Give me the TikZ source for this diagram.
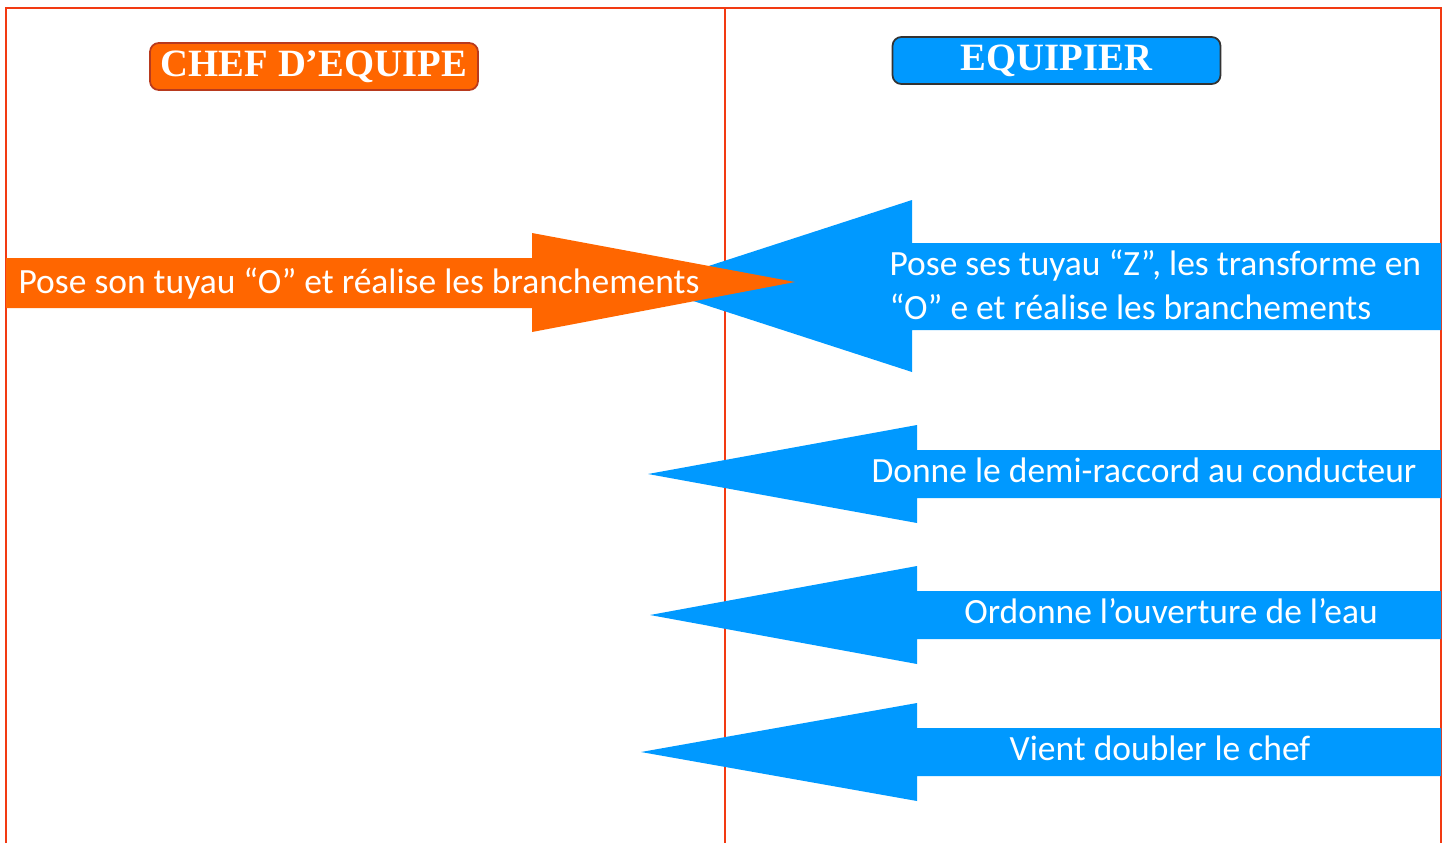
\documentclass[tikz,border=0pt]{standalone}
\usepackage{fontspec}
\setmainfont{Carlito}
\newfontfamily\headfont{Liberation Serif}
\usetikzlibrary{positioning}
\definecolor{chefcol}{HTML}{FF6600}
\definecolor{chefline}{HTML}{B83A1E}
\definecolor{equipcol}{HTML}{0099FF}
\definecolor{equipline}{HTML}{333333}
\definecolor{framecol}{HTML}{F23A12}

\begin{document}
\begin{tikzpicture}[x=0.02cm,y=-0.02cm,semithick]
  \tikzstyle{frame}=[draw=framecol,line width=1.4pt]
  \tikzstyle{headbox}=[rounded corners=5pt,line width=1pt,text=white,
    font=\headfont\bfseries\fontsize{22}{22}\selectfont,
    minimum width=6.56cm,minimum height=0.94cm,inner sep=0pt]
  \tikzstyle{arrowtext}=[text=white,inner sep=0pt,
    font=\fontsize{20.2}{25}\selectfont]

  \useasboundingbox (0,0) rectangle (1447,843);

  % columns
  \draw[frame] (6,843) -- (6,8) -- (1441,8) -- (1441,843);
  \draw[framecol,line width=0.8pt] (725,8) -- (725,843);

  % headers
  \node[headbox,fill=chefcol,draw=chefline] (chef) at (314,66.5) {CHEF D’EQUIPE};
  \node[headbox,fill=equipcol,draw=equipline] (equip) at (1056.5,60.5) {EQUIPIER};

  % blue arrows
  \fill[equipcol] (1441,243) -- (912,243) -- (912,200) -- (647,286)
    -- (912,372) -- (912,330) -- (1441,330) -- cycle;
  \foreach \y/\t in {474/648,615/650,752/641}
    \fill[equipcol] (1441,\y-24) -- (917,\y-24) -- (917,\y-49) -- (\t,\y)
      -- (917,\y+49) -- (917,\y+24) -- (1441,\y+24) -- cycle;

  % orange arrow
  \fill[chefcol] (6,258) -- (532,258) -- (532,233) -- (795,282)
    -- (532,332) -- (532,308) -- (6,308) -- cycle;

  \node[arrowtext] (pose) at (359,284) {Pose son tuyau “O” et réalise les branchements};
  \node[arrowtext,align=left,anchor=west] (tuyaux) at (889,285)
    {Pose ses tuyau “Z”, les transforme en\\“O” e et réalise les branchements};
  \node[arrowtext] (raccord) at (1144,470) {Donne le demi-raccord au conducteur};
  \node[arrowtext] (eau) at (1171,611) {Ordonne l’ouverture de l’eau};
  \node[arrowtext] (doubler) at (1160,748) {Vient doubler le chef};
\end{tikzpicture}
\end{document}
